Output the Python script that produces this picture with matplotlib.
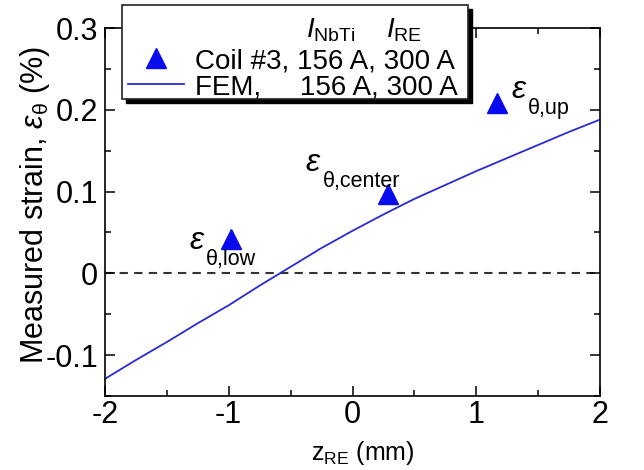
import matplotlib
matplotlib.use("Agg")
import matplotlib.pyplot as plt
from matplotlib.patches import Rectangle
from matplotlib.ticker import MultipleLocator

plt.rcParams['font.family'] = ['Liberation Sans', 'DejaVu Sans']
plt.rcParams['mathtext.fontset'] = 'custom'
plt.rcParams['mathtext.rm'] = 'Liberation Sans'
plt.rcParams['mathtext.it'] = 'Liberation Sans:italic'
plt.rcParams['mathtext.bf'] = 'Liberation Sans:bold'

# measured data (Coil #3)
meas_z = [-0.98, 0.29, 1.17]
meas_strain = [0.042, 0.097, 0.208]
meas_main = ["ε", "ε", "ε"]
meas_sub = ["θ,low", "θ,center", "θ,up"]

# FEM curve
fem_z = [-2.0, -1.75, -1.5, -1.25, -1.0, -0.75, -0.5, -0.25, 0.0,
         0.25, 0.5, 0.75, 1.0, 1.25, 1.5, 1.75, 2.0]
fem_strain = [-0.129, -0.106, -0.084, -0.061, -0.039, -0.015, 0.008, 0.031,
              0.052, 0.072, 0.091, 0.108, 0.125, 0.141, 0.157, 0.173, 0.188]

W, H = 644, 470
fig = plt.figure(figsize=(W / 100, H / 100), dpi=100)
ax = fig.add_axes([105 / W, 1 - 396 / H, (600 - 105) / W, (396 - 28) / H])

ax.axhline(0, color='#333333', lw=1.5, ls=(0, (4, 3)), zorder=1)
fem_line, = ax.plot(fem_z, fem_strain, color='#2a2ad0', lw=1.3, zorder=2)
meas_pts, = ax.plot(meas_z, meas_strain, ls='none', marker='^', ms=14,
                    color='#0a0aee', mec='#0a0aee', zorder=3)

# label offsets (pixels) for epsilon and its subscript, relative to points
eps_off = [(-42, -10), (-83, 23), (14, 5)]
sub_off = [(-25, -26), (-66, 7), (31, -11)]
for z, s, m, sb, eo, so in zip(meas_z, meas_strain, meas_main, meas_sub,
                                eps_off, sub_off):
    ax.annotate(m, (z, s), xytext=eo, textcoords='offset pixels',
                fontsize=23, style='italic', ha='left', va='baseline')
    ax.annotate(sb, (z, s), xytext=so, textcoords='offset pixels',
                fontsize=15.5, ha='left', va='baseline')

ax.set_xlim(-2, 2)
ax.set_ylim(-0.15, 0.3)
ax.xaxis.set_minor_locator(MultipleLocator(0.5))
ax.yaxis.set_minor_locator(MultipleLocator(0.05))
ax.set_xticks([-2, -1, 0, 1, 2])
ax.set_xticklabels(['-2', '-1', '0', '1', '2'])
ax.set_yticks([-0.1, 0, 0.1, 0.2, 0.3])
ax.set_yticklabels(['-0.1', '0', '0.1', '0.2', '0.3'])
ax.tick_params(which='both', direction='in', top=True, right=True,
               labelsize=22, width=1.1)
ax.tick_params(which='major', length=7)
ax.tick_params(which='minor', length=4)
ax.tick_params(axis='x', pad=3)
ax.tick_params(axis='y', pad=5)
for sp in ax.spines.values():
    sp.set_linewidth(1.2)

ax.set_xlabel(r"z$_{\mathrm{RE}}$ (mm)", fontsize=18)
ax.set_ylabel(r"Measured strain, $\mathit{ε}_{\mathrm{θ}}$ (%)", fontsize=22)
ax.xaxis.set_label_coords(0.52, -0.118)
ax.yaxis.set_label_coords(-0.108, 0.52)

# legend box with shadow
bx0, by0, bx1, by1 = 122, 5, 468, 99
fig.patches.append(Rectangle(((bx0 + 4) / W, 1 - (by1 + 4) / H),
                             (bx1 - bx0) / W, (by1 - by0) / H,
                             transform=fig.transFigure, facecolor='black',
                             edgecolor='black', zorder=5))
fig.patches.append(Rectangle((bx0 / W, 1 - by1 / H),
                             (bx1 - bx0) / W, (by1 - by0) / H,
                             transform=fig.transFigure, facecolor='white',
                             edgecolor='#222222', lw=1.2, zorder=6))

leg = fig.legend([meas_pts, fem_line],
                 ["Coil #3, 156 A, 300 A", "FEM,     156 A, 300 A"],
                 loc='upper left', bbox_to_anchor=(128 / W, 1 - 48 / H),
                 frameon=False, fontsize=20, handlelength=2.0,
                 handletextpad=0.4, labelspacing=0.0, borderpad=0,
                 borderaxespad=0, numpoints=1)
leg.set_zorder(7)

fig.text(306 / W, 1 - 37 / H, r"$\mathit{I}_{\mathrm{NbTi}}$", fontsize=20,
         ha='left', va='baseline', zorder=8)
fig.text(386 / W, 1 - 37 / H, r"$\mathit{I}_{\mathrm{RE}}$", fontsize=20,
         ha='left', va='baseline', zorder=8)

fig.savefig('out.png', dpi=100)
